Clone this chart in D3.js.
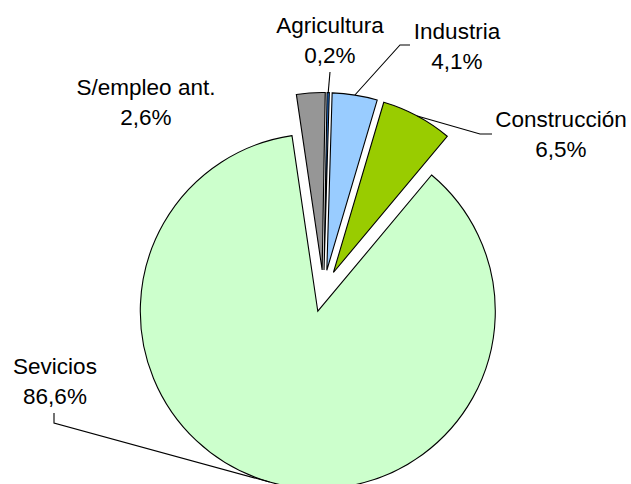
<!DOCTYPE html>
<html>
<head>
<meta charset="utf-8">
<script src="https://cdn.jsdelivr.net/npm/d3@7"></script>
<style>
  html, body { margin: 0; padding: 0; background: #fff; }
  svg { display: block; }
  text { font-family: "Liberation Sans", Arial, sans-serif; fill: #000; }
</style>
</head>
<body>
<svg id="chart" width="631" height="484"></svg>
<script>
// Data
const categories = ["Agricultura", "Industria", "Construcción", "Sevicios", "S/empleo ant."];
const values = [0.2, 4.1, 6.5, 86.6, 2.6];
const valueLabels = ["0,2%", "4,1%", "6,5%", "86,6%", "2,6%"];
const colors = ["#1F6FD0", "#99CCFF", "#99CC00", "#CCFFCC", "#969696"];

// Layout
const W = 631, H = 484;
const cx = 323.5, cy = 291, R = 177.5, explode = 21;
const rot = 1 * Math.PI / 180;
const fontSize = 22.5;
const lineGap = 30;
// label positions: [x, baseline of first line]
const labelPos = [[330, 33], [457, 39], [561, 127], [55, 374], [146, 95]];
// leader line elbow points (from slice edge)
const leaders = [
  [[330, 72], [330, 72]],
  [[400, 45], [410, 45]],
  [[480, 134], [492, 134]],
  [[54, 423], [54, 413]],
  null
];

const svg = d3.select("#chart");

const pie = d3.pie().sort(null).startAngle(rot).endAngle(2 * Math.PI + rot).value(d => d)(values);
const arc = d3.arc().innerRadius(0).outerRadius(R);

const g = svg.append("g").attr("transform", `translate(${cx},${cy})`);

pie.forEach((p, i) => {
  const mid = (p.startAngle + p.endAngle) / 2;
  const dx = explode * Math.sin(mid), dy = -explode * Math.cos(mid);
  g.append("path")
    .attr("d", arc(p))
    .attr("transform", `translate(${dx},${dy})`)
    .attr("fill", colors[i])
    .attr("stroke", "#000")
    .attr("stroke-width", 1.1)
    .attr("stroke-linejoin", "miter");
});

// Leader lines
pie.forEach((p, i) => {
  if (!leaders[i]) return;
  const mid = (p.startAngle + p.endAngle) / 2;
  const rr = R + explode;
  const ex = cx + rr * Math.sin(mid), ey = cy - rr * Math.cos(mid);
  const pts = [[ex, ey], ...leaders[i]];
  svg.append("path")
    .attr("d", d3.line()(pts))
    .attr("fill", "none")
    .attr("stroke", "#000")
    .attr("stroke-width", 1.1);
});

// Labels
categories.forEach((c, i) => {
  const [x, y] = labelPos[i];
  const t = svg.append("text")
    .attr("x", x).attr("y", y)
    .attr("text-anchor", "middle")
    .attr("font-size", fontSize);
  t.append("tspan").attr("x", x).attr("y", y).text(c);
  t.append("tspan").attr("x", x).attr("y", y + lineGap).text(valueLabels[i]);
});
</script>
</body>
</html>
